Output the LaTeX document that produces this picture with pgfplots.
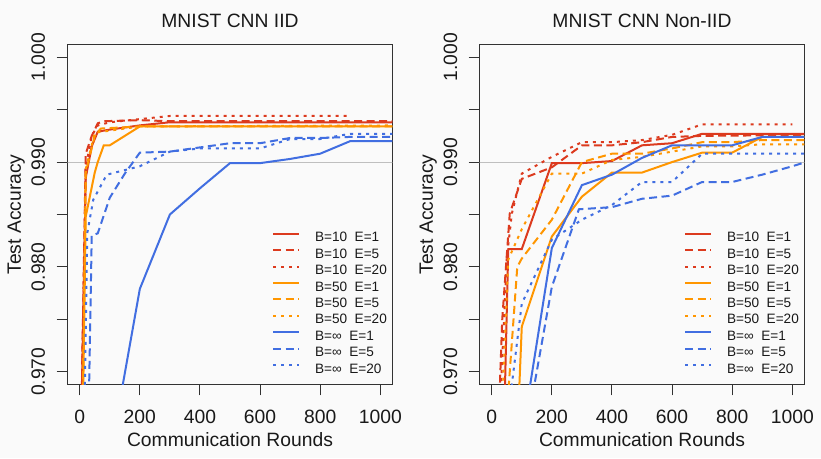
\documentclass[border=0pt]{standalone}
\usepackage{fontspec}
\setmainfont{Liberation Sans}
\usepackage{pgfplots}
\pgfplotsset{compat=1.18}
\definecolor{cR}{RGB}{220,58,30}
\definecolor{cO}{RGB}{255,150,0}
\definecolor{cB}{RGB}{65,110,225}
\definecolor{bg}{RGB}{250,250,250}
\definecolor{axc}{RGB}{50,50,50}
\tikzset{
  ldash/.style={dash pattern=on 8pt off 4.5pt},
  ldot/.style={dash pattern=on 3pt off 5pt},
}
\pgfplotsset{
  myaxis/.style={
    scale only axis, width=324.6pt, height=339.6pt,
    xmin=-40, xmax=1040, ymin=0.9688, ymax=1.0012,
    axis line style={draw=axc, line width=1pt},
    every tick/.style={draw=axc, line width=1pt},
    tick align=outside, major tick length=11pt,
    xtick pos=bottom, ytick pos=left,
    xtick={0,200,400,600,800,1000},
    xticklabels={0,200,400,600,800,1000},
    ytick={0.970,0.975,0.980,0.985,0.990,0.995,1.000},
    yticklabels={0.970,,0.980,,0.990,,1.000},
    /pgf/number format/assume math mode=true,
    ticklabel style={font=\fontsize{19.3}{22}\selectfont, text=black!90},
    xticklabel style={anchor=base, yshift=-28pt},
    yticklabel style={xshift=-11.7pt, rotate=90, anchor=base},
    title style={at={(axis description cs:0.5,1.0336)}, anchor=base, font=\fontsize{19.3}{22}\selectfont, text=black!90},
    xlabel style={at={(axis description cs:0.5,-0.18375)}, anchor=base, font=\fontsize{19.3}{22}\selectfont, text=black!90},
    ylabel style={at={(axis description cs:-0.1439,0.5)}, rotate=0, anchor=base, font=\fontsize{19.3}{22}\selectfont, text=black!90},
    xlabel={Communication Rounds},
    ylabel={Test Accuracy},
    axis background/.style={fill=bg},
    no markers,
    every axis plot/.append style={line width=2pt},
    legend cell align=left,
    legend image code/.code={\draw[#1] (0pt,4.9pt) -- (26pt,4.9pt);},
    legend style={at={(0.6294,0.4529)}, anchor=north west, draw=none, fill=none,
      inner sep=0pt, outer sep=0pt, row sep=0pt, column sep=15pt,
      font=\fontsize{13.6}{16}\selectfont, text=black!90,
      nodes={inner sep=0pt, text height=11.4pt, text depth=5pt}},
  }
}
\begin{document}
\begin{tikzpicture}
\fill[bg] (0pt,0pt) rectangle (821pt,458pt);
\useasboundingbox (0pt,0pt) rectangle (821pt,458pt);
% ---------------- IID ----------------
\begin{axis}[myaxis, at={(67.7pt,73.7pt)}, anchor=south west, title={MNIST CNN IID}]
\addplot[black!25, line width=1pt, forget plot] coordinates {(-100,0.990) (1200,0.990)};
\addplot[cR] coordinates {(2,0.960) (20,0.9885) (40,0.9915) (60,0.9929) (100,0.9931) (200,0.9935) (300,0.9938) (1100,0.9938)};
\addlegendentry{B=10\ \ E=1}
\addplot[cR, ldash] coordinates {(2,0.960) (20,0.9908) (40,0.9925) (60,0.9937) (80,0.9939) (200,0.9940) (300,0.9939) (1100,0.9939)};
\addlegendentry{B=10\ \ E=5}
\addplot[cR, ldot] coordinates {(2,0.960) (20,0.9895) (40,0.9925) (60,0.9935) (100,0.9938) (200,0.9941) (300,0.9944) (900,0.9944)};
\addlegendentry{B=10\ \ E=20}
\addplot[cO] coordinates {(5,0.955) (20,0.9848) (50,0.9890) (60,0.9900) (80,0.9916) (100,0.9916) (200,0.9934) (1100,0.9934)};
\addlegendentry{B=50\ \ E=1}
\addplot[cO, ldash] coordinates {(5,0.955) (20,0.9890) (50,0.9925) (70,0.9932) (200,0.9934) (1100,0.9934)};
\addlegendentry{B=50\ \ E=5}
\addplot[cO, ldot] coordinates {(5,0.955) (20,0.9893) (50,0.9928) (100,0.9930) (200,0.9934) (1100,0.9935)};
\addlegendentry{B=50\ \ E=20}
\addplot[cB] coordinates {(100,0.9618) (200,0.9779) (300,0.9850) (400,0.9875) (500,0.9899) (600,0.9899) (700,0.9903) (800,0.9908) (900,0.9920) (1100,0.9920)};
\addlegendentry{B=∞\ \ E=1}
\addplot[cB, ldash] coordinates {(20,0.950) (40,0.9830) (60,0.9832) (100,0.9866) (150,0.9889) (200,0.9909) (300,0.9910) (400,0.9914) (500,0.9918) (600,0.9918) (700,0.9923) (800,0.9923) (900,0.9924) (1100,0.9924)};
\addlegendentry{B=∞\ \ E=5}
\addplot[cB, ldot] coordinates {(10,0.955) (25,0.9832) (45,0.9864) (90,0.9888) (200,0.9896) (300,0.9910) (400,0.9913) (600,0.9913) (700,0.9922) (800,0.9922) (900,0.9927) (1100,0.9927)};
\addlegendentry{B=∞\ \ E=20}
\end{axis}
% ---------------- Non-IID ----------------
\begin{axis}[myaxis, at={(479.7pt,73.7pt)}, anchor=south west, title={MNIST CNN Non-IID}]
\addplot[black!25, line width=1pt, forget plot] coordinates {(-100,0.990) (1200,0.990)};
\addplot[cR] coordinates {(42,0.966) (55,0.9817) (100,0.9817) (200,0.9899) (300,0.9899) (400,0.9901) (500,0.9916) (600,0.9918) (700,0.9927) (1100,0.9927)};
\addlegendentry{B=10\ \ E=1}
\addplot[cR, ldash] coordinates {(20,0.963) (35,0.9750) (60,0.9851) (100,0.9884) (200,0.9895) (300,0.9916) (400,0.9916) (500,0.9919) (600,0.9924) (700,0.9925) (1100,0.9926)};
\addlegendentry{B=10\ \ E=5}
\addplot[cR, ldot] coordinates {(22,0.963) (50,0.9808) (67,0.9851) (100,0.9889) (200,0.9905) (300,0.9919) (400,0.9919) (500,0.9921) (600,0.9926) (700,0.9936) (1000,0.9936)};
\addlegendentry{B=10\ \ E=20}
\addplot[cO] coordinates {(91,0.9680) (100,0.9743) (200,0.9829) (300,0.9867) (400,0.9890) (500,0.9890) (600,0.9900) (700,0.9909) (800,0.9909) (900,0.9924) (1100,0.9924)};
\addlegendentry{B=50\ \ E=1}
\addplot[cO, ldash] coordinates {(50,0.966) (85,0.9800) (100,0.9808) (200,0.9845) (300,0.9900) (400,0.9908) (500,0.9908) (600,0.9913) (700,0.9919) (800,0.9919) (900,0.9921) (1100,0.9921)};
\addlegendentry{B=50\ \ E=5}
\addplot[cO, ldot] coordinates {(25,0.960) (55,0.9807) (100,0.9836) (200,0.9889) (300,0.9889) (400,0.9902) (500,0.9905) (600,0.9910) (700,0.9915) (800,0.9915) (900,0.9917) (1100,0.9917)};
\addlegendentry{B=50\ \ E=20}
\addplot[cB] coordinates {(100,0.9637) (200,0.9818) (300,0.9878) (400,0.9888) (500,0.9904) (600,0.9916) (700,0.9916) (800,0.9916) (900,0.9924) (1100,0.9924)};
\addlegendentry{B=∞\ \ E=1}
\addplot[cB, ldash] coordinates {(100,0.9620) (200,0.9781) (290,0.9855) (400,0.9857) (500,0.9865) (600,0.9868) (700,0.9881) (800,0.9881) (900,0.9888) (1000,0.9896) (1100,0.9905)};
\addlegendentry{B=∞\ \ E=5}
\addplot[cB, ldot] coordinates {(50,0.9648) (100,0.9765) (200,0.9826) (300,0.9845) (400,0.9859) (500,0.9881) (600,0.9881) (700,0.9908) (1100,0.9908)};
\addlegendentry{B=∞\ \ E=20}
\end{axis}
\end{tikzpicture}
\end{document}
